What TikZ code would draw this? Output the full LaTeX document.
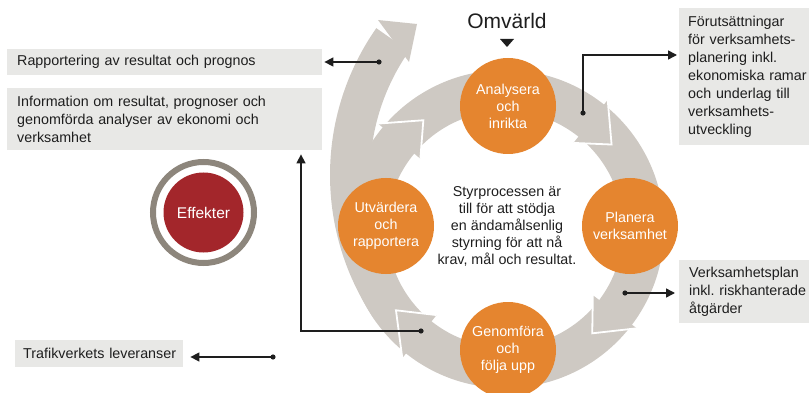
\documentclass[tikz,border=0pt]{standalone}
\usepackage{fontspec}
\setmainfont{Liberation Sans}
\usetikzlibrary{arrows.meta,calc}
\definecolor{band}{HTML}{CEC9C3}
\definecolor{orng}{HTML}{E5852F}
\definecolor{boxg}{HTML}{E8E8E6}
\definecolor{txt}{HTML}{1E1E1E}
\definecolor{ringg}{HTML}{8D867C}
\definecolor{effred}{HTML}{A3262B}
\frenchspacing
\begin{document}
\begin{tikzpicture}[x=1pt,y=1pt,
  every node/.style={text=txt},
  proc/.style={circle, fill=orng, minimum size=96, inner sep=0, text=white, align=center, font=\fontsize{14.3}{17}\selectfont},
  box/.style={rectangle, fill=boxg, inner ysep=0, align=left, anchor=north west, font=\fontsize{14.3}{18}\selectfont},
  conn/.style={draw=txt, line width=1.5, -{Triangle[length=9pt,width=9pt]}},
  dot/.style={fill=txt},
  headstyle/.style={fill=band, draw=white, line width=1.8}
]
\useasboundingbox (0,0) rectangle (809,-393);
\begin{scope}
\clip (0,0) rectangle (809,-393);
\coordinate (RC) at (505,-229);
\coordinate (OC) at (586,-175);
% ring
\fill[band, even odd rule] (RC) circle[radius=159] (RC) circle[radius=118];
% outer arc
\fill[band] ($(OC)+(215:256)$) arc[start angle=215, end angle=145, radius=256]
  -- ($(OC)+(145:216)$) arc[start angle=145, end angle=215, radius=216] -- cycle;
\fill[band] (378,-20) -- (417,-24) -- (409,-62) -- cycle;
% ring heads
\foreach \b/\t in {51.5/38.4, -37/-50.1, 231.5/216.7, 140.3/126.9}
  \filldraw[headstyle] ($(RC)+(\b:110)$) -- ($(RC)+(\t:136)$) -- ($(RC)+(\b:165)$);
% process circles
\node[proc] (ana) at (508,-106) {Analysera\\och\\inrikta};
\node[proc] (pla) at (630,-226) {Planera\\verksamhet};
\node[proc] (gen) at (508,-350) {Genomföra\\och\\följa upp};
\node[proc] (utv) at (386,-226) {Utvärdera\\och\\rapportera};
% centre text
\node[align=center, font=\fontsize{14.3}{17}\selectfont] (mid) at (507,-226)
  {Styrprocessen är\\till för att stödja\\en ändamålsenlig\\styrning för att nå\\krav, mål och resultat.};
% Omvärld
\node[font=\fontsize{21}{25}\selectfont] (omv) at (507,-21) {Omvärld};
\fill[txt] (500,-39) -- (514,-39) -- (507,-47) -- cycle;
% Effekter
\node[circle, draw=ringg, line width=6, minimum size=101, inner sep=0] (effr) at (203.5,-212.5) {};
\node[circle, fill=effred, minimum size=80, inner sep=0, text=white, font=\fontsize{15.5}{18}\selectfont] (eff) at (effr) {Effekter};
% boxes
\node[box, minimum width=315, minimum height=26, inner xsep=10, text width=295] (rap) at (7,-49)
  {Rapportering av resultat och prognos};
\node[box, minimum width=315, minimum height=62, inner xsep=10, text width=295] (info) at (7,-88)
  {Information om resultat, prognoser och\\genomförda analyser av ekonomi och\\verksamhet};
\node[box, minimum width=168, minimum height=27, inner xsep=8, text width=152] (trv) at (15,-340)
  {\mbox{Trafikverkets leveranser}};
\node[box, minimum width=148, minimum height=137, inner xsep=9, text width=130] (forut) at (679,-8)
  {Förutsättningar\\för verksamhets-\\planering inkl.\\ekonomiska ramar\\och underlag till\\verksamhets-\\utveckling};
\node[box, minimum width=148, minimum height=63, inner xsep=10, text width=128] (vplan) at (679,-260)
  {Verksamhetsplan\\inkl. riskhanterade\\åtgärder};
% connectors
\coordinate (d1) at (379,-62);
\draw[conn, shorten >=2pt] (d1) -- (rap.east |- d1);
\fill[dot] (d1) circle[radius=2.6];
\coordinate (d2) at (421,-331);
\coordinate (c2) at (301,-331);
\draw[conn, shorten >=4pt] (d2) -- (c2) -- (c2 |- info.south);
\fill[dot] (d2) circle[radius=2.6];
\coordinate (d3) at (273,-357);
\draw[conn, shorten >=7pt] (d3) -- (trv.east |- d3);
\fill[dot] (d3) circle[radius=2.6];
\coordinate (d4) at (583,-113);
\coordinate (c4) at (583,-55);
\draw[conn, shorten >=2pt] (d4) -- (c4) -- (forut.west |- c4);
\fill[dot] (d4) circle[radius=2.6];
\coordinate (d5) at (625,-293);
\draw[conn, shorten >=4pt] (d5) -- (vplan.west |- d5);
\fill[dot] (d5) circle[radius=2.6];
\end{scope}
\end{tikzpicture}
\end{document}
